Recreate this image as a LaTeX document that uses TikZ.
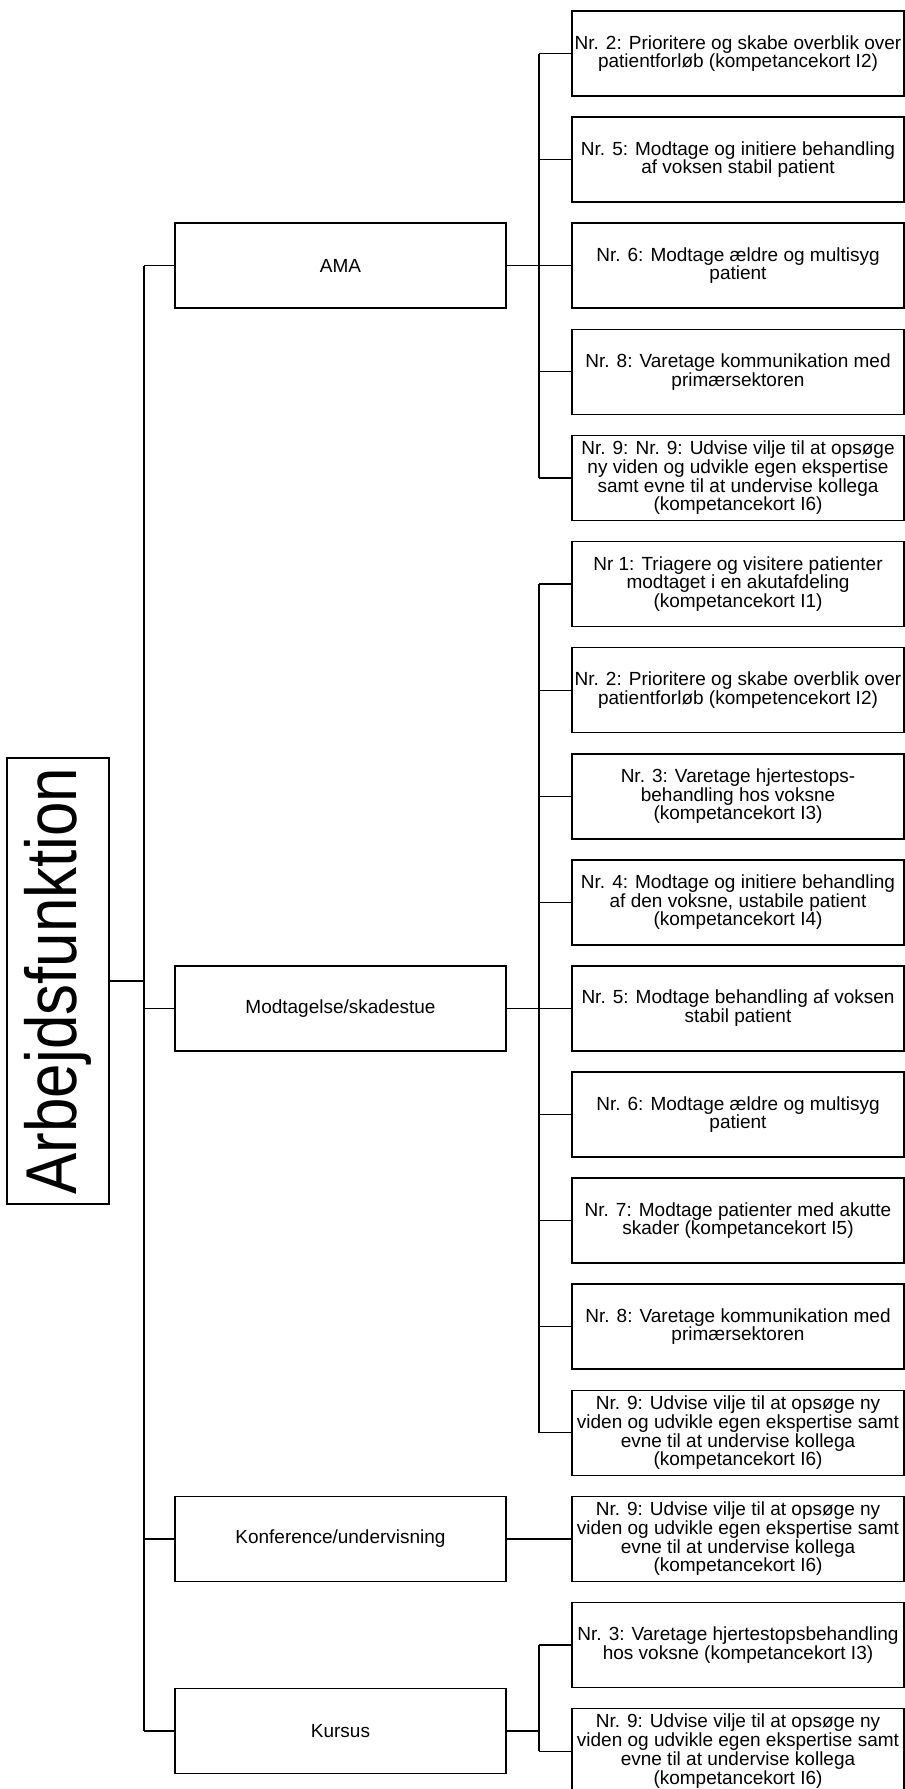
\documentclass[tikz,border=0pt]{standalone}
\usepackage{fontspec}
\setmainfont{Liberation Sans}
\usepackage{graphicx}
\begin{document}
\begin{tikzpicture}[x=1pt, y=-1pt,
    funktion/.style={draw, line width=1.6pt, minimum width=331pt, minimum height=85pt, inner sep=0pt, font=\fontsize{19}{17}\selectfont},
    kort/.style={draw, line width=1.6pt, minimum width=332pt, minimum height=85pt, inner sep=0pt, align=center, font=\fontsize{19}{17}\selectfont},
    gren/.style={line width=1.2pt},
    stamme/.style={line width=2.2pt}]
\useasboundingbox (0,0) rectangle (905,1789);
\node[draw, line width=1.6pt, rotate=90, minimum width=446pt, minimum height=102pt, inner sep=0pt, font=\fontsize{72}{72}\selectfont] (arb) at (58,981) {\scalebox{0.86}[1]{Arbejdsfunktion}};
\node[funktion] (ama) at (340.5,265.7) {AMA};
\node[funktion] (modt) at (340.5,1008.4) {Modtagelse/skadestue};
\node[funktion] (konf) at (340.5,1538.9) {Konference/undervisning};
\node[funktion] (kursus) at (340.5,1731) {Kursus};
\node[kort] (ama1) at (738,53.5) {Nr. 2: Prioritere og skabe overblik over\\patientforløb (kompetancekort I2)};
\node[kort] (ama2) at (738,159.6) {Nr. 5: Modtage og initiere behandling\\af voksen stabil patient};
\node[kort] (ama3) at (738,265.7) {Nr. 6: Modtage ældre og multisyg\\patient};
\node[kort] (ama4) at (738,371.8) {Nr. 8: Varetage kommunikation med\\primærsektoren};
\node[kort] (ama5) at (738,477.9) {Nr. 9: Nr. 9: Udvise vilje til at opsøge\\ny viden og udvikle egen ekspertise\\samt evne til at undervise kollega\\(kompetancekort I6)};
\node[kort] (modt1) at (738,584.0) {Nr 1: Triagere og visitere patienter\\modtaget i en akutafdeling\\(kompetancekort I1)};
\node[kort] (modt2) at (738,690.1) {Nr. 2: Prioritere og skabe overblik over\\patientforløb (kompetencekort I2)};
\node[kort] (modt3) at (738,796.2) {Nr. 3: Varetage hjertestops-\\behandling hos voksne\\(kompetancekort I3)};
\node[kort] (modt4) at (738,902.3) {Nr. 4: Modtage og initiere behandling\\af den voksne, ustabile patient\\(kompetancekort I4)};
\node[kort] (modt5) at (738,1008.4) {Nr. 5: Modtage behandling af voksen\\stabil patient};
\node[kort] (modt6) at (738,1114.5) {Nr. 6: Modtage ældre og multisyg\\patient};
\node[kort] (modt7) at (738,1220.6) {Nr. 7: Modtage patienter med akutte\\skader (kompetancekort I5)};
\node[kort] (modt8) at (738,1326.7) {Nr. 8: Varetage kommunikation med\\primærsektoren};
\node[kort] (modt9) at (738,1432.8) {Nr. 9: Udvise vilje til at opsøge ny\\viden og udvikle egen ekspertise samt\\evne til at undervise kollega\\(kompetancekort I6)};
\node[kort] (konf1) at (738,1538.9) {Nr. 9: Udvise vilje til at opsøge ny\\viden og udvikle egen ekspertise samt\\evne til at undervise kollega\\(kompetancekort I6)};
\node[kort] (kursus1) at (738,1645.0) {Nr. 3: Varetage hjertestopsbehandling\\hos voksne (kompetancekort I3)};
\node[kort] (kursus2) at (738,1751.1) {Nr. 9: Udvise vilje til at opsøge ny\\viden og udvikle egen ekspertise samt\\evne til at undervise kollega\\(kompetancekort I6)};
\coordinate (t) at (144,0);
\coordinate (s) at (539,0);
\draw[stamme] (t |- ama.west) -- (t |- kursus.west);
\draw[gren] (arb.south) -- (t |- arb.south);
\foreach \n in {ama,modt,konf,kursus}
    \draw[gren] (t |- \n.west) -- (\n.west);
\draw[stamme] (s |- ama1.west) -- (s |- ama5.west);
\draw[stamme] (s |- modt1.west) -- (s |- modt9.west);
\draw[gren] (s |- kursus1.west) -- (s |- kursus2.west);
\draw[gren] (ama.east) -- (s |- ama.east);
\draw[gren] (modt.east) -- (s |- modt.east);
\draw[gren] (kursus.east) -- (s |- kursus.east);
\draw[gren] (konf.east) -- (konf1.west);
\foreach \i in {1,...,5}
    \draw[gren] (s |- ama\i.west) -- (ama\i.west);
\foreach \i in {1,...,9}
    \draw[gren] (s |- modt\i.west) -- (modt\i.west);
\foreach \i in {1,2}
    \draw[gren] (s |- kursus\i.west) -- (kursus\i.west);
\end{tikzpicture}
\end{document}
